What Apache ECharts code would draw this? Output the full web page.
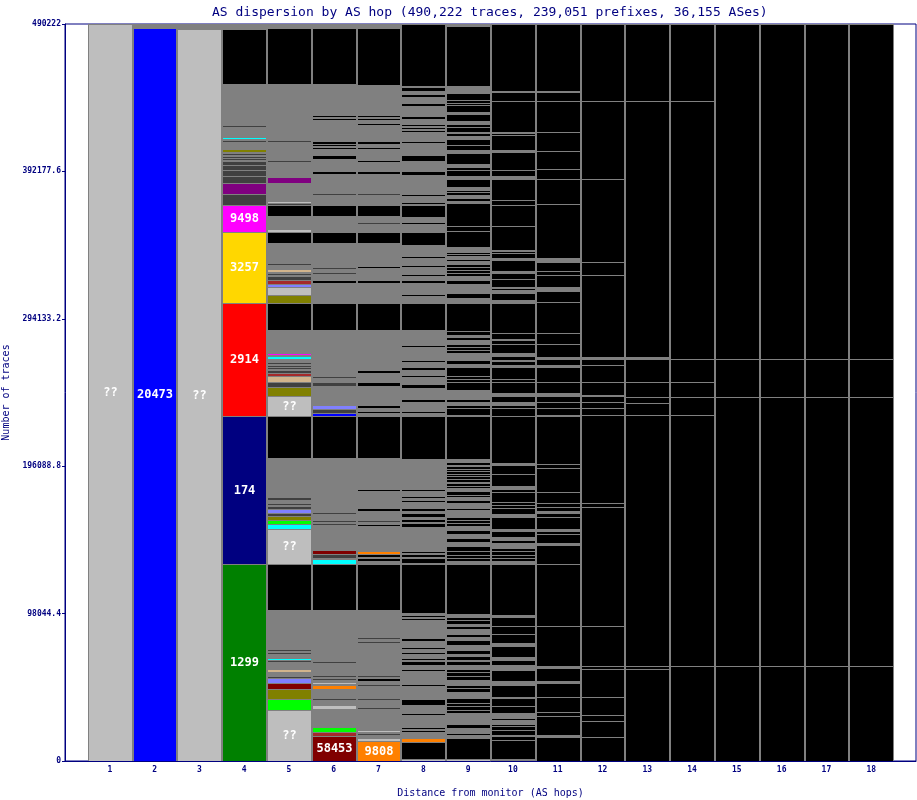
<!DOCTYPE html>
<html><head><meta charset="utf-8">
<script src="https://cdn.jsdelivr.net/npm/echarts@6/dist/echarts.min.js"></script>
<style>html,body{margin:0;padding:0;background:#fff}#c{width:917px;height:800px}</style>
</head><body><div id="c"></div>
<script>
// ---- data: each hop = list of [cumulative top (traces), AS class, label], bottom to top ----
const titleText = 'AS dispersion by AS hop (490,222 traces, 239,051 prefixes, 36,155 ASes)';
const hopNumbers = [1,2,3,4,5,6,7,8,9,10,11,12,13,14,15,16,17,18];
const yTickValues = [0, 98044.4, 196088.8, 294133.2, 392177.6, 490222];
const totalTraces = 490222;

const hop1 = [[490222,'S','??']];
const hop2 = [[487600,'B','20473'],[490222,'G']];
const hop3 = [[486900,'S','??'],[490222,'G']];
const hop4 = [[131000,'F','1299'],[229200,'N','174'],[304700,'R','2914'],[352200,'Y','3257'],[369900,'M','9498'],
 [377200,'D'],[384500,'P'],[388800,'D'],[392800,'D'],[396500,'D'],[399100,'D'],[399800,'G'],[400800,'D'],[401400,'G'],
 [402400,'D'],[403100,'G'],[404100,'D'],[405100,'G'],[407100,'O'],[408100,'G'],[409400,'D'],[410100,'G'],[411100,'D'],
 [411800,'G'],[412800,'D'],[413400,'G'],[415100,'C'],[415700,'G'],[416700,'D'],[417400,'G'],[418700,'D'],[419400,'G'],
 [420700,'D'],[421400,'G'],[423100,'D'],[450300,'G'],[486900,'K'],[490222,'G']];
const hop5 = [[33900,'S','??'],[41200,'L'],[47900,'O'],[51600,'W'],[54900,'V'],[56500,'D'],[57200,'G'],[58200,'D'],[58900,'G'],
 [61500,'T'],[62200,'G'],[63500,'D'],[64200,'G'],[65200,'D'],[65900,'G'],[66900,'D'],[67500,'G'],[68800,'C'],[69800,'G'],
 [70800,'D'],[71500,'G'],[72500,'D'],[73200,'G'],[74200,'D'],[100400,'G'],[131000,'K'],
 [154000,'S','??'],[157700,'C'],[160300,'L'],[163000,'O'],[165000,'D'],[167600,'V'],[169600,'D'],[170300,'G'],[171300,'D'],
 [172000,'G'],[173000,'D'],[173600,'G'],[175300,'D'],[201600,'G'],[229200,'K'],
 [243100,'S','??'],[248500,'O'],[252400,'D'],[255800,'T'],[258100,'H'],[260100,'D'],[260800,'G'],[261800,'D'],[262400,'G'],
 [263400,'D'],[264100,'G'],[265100,'D'],[265800,'G'],[266700,'D'],[267400,'G'],[269400,'C'],[270100,'G'],[271400,'M'],
 [286700,'G'],[304700,'K'],
 [310000,'O'],[315600,'S'],[317600,'V'],[320000,'H'],[322300,'D'],[323300,'G'],[324600,'D'],[325300,'G'],[327000,'T'],
 [327600,'G'],[328900,'D'],[329600,'G'],[331300,'D'],[331900,'G'],[332900,'D'],[344600,'G'],[352200,'K'],
 [353900,'S'],[362500,'G'],[369900,'K'],[371200,'D'],[372500,'S'],[384500,'G'],[388500,'P'],[393100,'G'],[394100,'S'],
 [398500,'G'],[399500,'D'],[400100,'G'],[401400,'D'],[402100,'G'],[403100,'D'],[408400,'G'],[409400,'D'],[410100,'G'],
 [411100,'D'],[411800,'G'],[413100,'D'],[450300,'G'],[487600,'K'],[490222,'G']];
const hop6 = [[16300,'W','58453'],[19300,'H'],[22300,'L'],[23600,'D'],[34300,'G'],[37300,'S'],[40600,'G'],[41600,'D'],
 [47900,'G'],[50600,'E'],[51200,'G'],[52600,'S'],[53900,'G'],[54900,'D'],[55900,'G'],[56900,'D'],[60500,'G'],[61500,'D'],
 [65200,'G'],[66200,'D'],[66900,'G'],[67500,'D'],[100400,'G'],[131000,'K'],
 [134400,'C'],[135000,'G'],[137700,'D'],[140400,'W'],[157000,'G'],[158000,'D'],[159000,'G'],[160000,'D'],[164300,'G'],
 [165300,'D'],[167600,'G'],[168600,'D'],[201600,'G'],[229200,'K'],
 [231800,'B'],[234100,'D'],[236800,'V'],[247800,'G'],[248800,'D'],[249500,'G'],[251800,'D'],[254800,'G'],[255800,'D'],
 [257400,'G'],[258400,'D'],[259400,'G'],[260400,'D'],[264700,'G'],[265700,'D'],[286700,'G'],[304700,'K'],
 [309000,'G'],[310000,'D'],[318000,'G'],[320000,'K'],[324000,'G'],[325000,'D'],[327300,'G'],[328300,'D'],[344600,'G'],[352200,'K'],
 [354900,'G'],[355900,'D'],[362500,'G'],[369900,'K'],
 [376500,'G'],[377500,'D'],[383200,'G'],[384100,'K'],[384800,'G'],[385800,'K'],[390500,'G'],[392500,'K'],[398100,'G'],
 [399100,'K'],[400400,'G'],[403400,'K'],[407100,'G'],[408100,'K'],[409100,'G'],[410100,'K'],[410400,'G'],[412400,'K'],
 [426400,'G'],[427400,'K'],[428400,'G'],[429400,'K'],[450300,'G'],[487600,'K'],[490222,'G']];
const hop7 = [[13000,'E','9808'],[15600,'S'],[17300,'G'],[18600,'D'],[19600,'G'],[20600,'S'],[34600,'G'],[35600,'D'],
 [40900,'G'],[41900,'D'],[47600,'G'],[48600,'D'],[49900,'G'],[50900,'D'],[53200,'G'],[54900,'K'],[56200,'G'],[57200,'D'],
 [66200,'G'],[67200,'D'],[72500,'G'],[73500,'K'],[78800,'G'],[79800,'D'],[81200,'G'],[82200,'D'],[100400,'G'],[131000,'K'],
 [133000,'G'],[135000,'K'],[135700,'G'],[137700,'K'],[139700,'E'],[156000,'G'],[157700,'K'],[159300,'G'],[160000,'D'],
 [166600,'G'],[168300,'K'],[179300,'G'],[180900,'K'],[184900,'G'],[185600,'D'],[201600,'G'],[229200,'K'],
 [229900,'G'],[230900,'K'],[231500,'G'],[232500,'K'],[234800,'G'],[236500,'K'],[247800,'G'],[248800,'D'],[249500,'G'],
 [251800,'K'],[255100,'G'],[255800,'D'],[257800,'G'],[260400,'K'],[286700,'G'],[304700,'K'],
 [308700,'G'],[309600,'D'],[311700,'G'],[312600,'D'],[318000,'G'],[320000,'K'],[324300,'G'],[325300,'K'],[327600,'G'],
 [329300,'K'],[344600,'G'],[352200,'K'],
 [354900,'G'],[355900,'D'],[357200,'G'],[358200,'D'],[362500,'G'],[369900,'K'],
 [376500,'G'],[377500,'D'],[383200,'G'],[384100,'K'],[384800,'G'],[385800,'K'],[390500,'G'],[392500,'K'],[398100,'G'],
 [399500,'K'],[400100,'G'],[401400,'K'],[402400,'G'],[403400,'K'],[407100,'G'],[408100,'K'],[408800,'G'],[409400,'K'],
 [410400,'G'],[412400,'K'],[423100,'G'],[424100,'K'],[426400,'G'],[427400,'K'],[428400,'G'],[429400,'K'],[449700,'G'],
 [487600,'K'],[490222,'G']];
const hop8 = [[1300,'S'],[12600,'K'],[15300,'E'],[19300,'G'],[20300,'K'],[21300,'G'],[22600,'K'],[23900,'G'],[24900,'K'],
 [30600,'G'],[31600,'K'],[37300,'G'],[41200,'K'],[47200,'G'],[48200,'K'],[49900,'G'],[50900,'K'],[53200,'G'],[54200,'K'],
 [59900,'G'],[60900,'K'],[63900,'G'],[66200,'K'],[67500,'G'],[68500,'K'],[71500,'G'],[72500,'K'],[74800,'G'],[75800,'K'],
 [77500,'G'],[78800,'K'],[79800,'G'],[81800,'K'],[83800,'G'],[84800,'K'],[89100,'G'],[90100,'K'],[94100,'G'],[95100,'K'],
 [95800,'G'],[96800,'K'],[98400,'G'],[131000,'K'],
 [132000,'G'],[135000,'K'],[135700,'G'],[137700,'K'],[138400,'G'],[139700,'K'],[146700,'G'],[147700,'K'],[155700,'G'],
 [158300,'K'],[159300,'G'],[161000,'K'],[162600,'G'],[165000,'K'],[166600,'G'],[168300,'K'],[172600,'G'],[173600,'K'],
 [174900,'G'],[176000,'K'],[179300,'G'],[180900,'K'],[185300,'G'],[186300,'K'],[192900,'G'],[193600,'K'],[200600,'G'],
 [229200,'K'],
 [229900,'G'],[230900,'K'],[231500,'G'],[232500,'K'],[234100,'G'],[235100,'K'],[239100,'G'],[240800,'K'],[247800,'G'],
 [250800,'K'],[255100,'G'],[256800,'K'],[259800,'G'],[261800,'K'],[265100,'G'],[266700,'K'],[275700,'G'],[276400,'K'],
 [286400,'G'],[304700,'K'],
 [309300,'G'],[310600,'K'],[318000,'G'],[320000,'K'],[322300,'G'],[324000,'K'],[325000,'G'],[325600,'K'],[328900,'G'],
 [329900,'K'],[334900,'G'],[335900,'K'],[342900,'G'],[352200,'K'],
 [354900,'G'],[355900,'K'],[357200,'G'],[358200,'K'],[359800,'G'],[360500,'K'],[361800,'G'],[369900,'K'],
 [370500,'G'],[371500,'K'],[375500,'G'],[377200,'K'],[383200,'G'],[384100,'K'],[385500,'G'],[386500,'K'],[390100,'G'],
 [392500,'K'],[398800,'G'],[403100,'K'],[410800,'G'],[412400,'K'],[418400,'G'],[419400,'K'],[420700,'G'],[421700,'K'],
 [422700,'G'],[423700,'K'],[426700,'G'],[428700,'K'],[430700,'G'],[431400,'K'],[435700,'G'],[437700,'K'],[438400,'G'],
 [439000,'K'],[441700,'G'],[443700,'K'],[445700,'G'],[448300,'K'],[449300,'G'],[490222,'K']];
const hop9 = [[1000,'S'],[15000,'K'],[17300,'G'],[18600,'K'],[22000,'G'],[24900,'K'],[31600,'G'],[33900,'K'],[36300,'K'],
 [38900,'K'],[41600,'K'],[46200,'G'],[48600,'K'],[50600,'K'],[53900,'G'],[56500,'K'],[59200,'K'],[61500,'K'],[63900,'G'],
 [66200,'K'],[67500,'G'],[69800,'K'],[71500,'G'],[73800,'K'],[77200,'G'],[80500,'K'],[82200,'G'],[84800,'K'],[87500,'G'],
 [89800,'K'],[91100,'G'],[94100,'K'],[96100,'K'],[98100,'G'],[131000,'K'],
 [132700,'G'],[134700,'K'],[137000,'K'],[139400,'K'],[142700,'K'],[146000,'G'],[148000,'K'],[151300,'G'],[153700,'K'],
 [156000,'G'],[158000,'K'],[160300,'K'],[162600,'K'],[167000,'G'],[168600,'K'],[171300,'G'],[173600,'K'],[175300,'G'],
 [176900,'K'],[179300,'K'],[181300,'G'],[182900,'K'],[184600,'K'],[185900,'G'],[187300,'K'],[189300,'K'],[190900,'K'],
 [192600,'K'],[193900,'K'],[195900,'K'],[197200,'G'],[199200,'K'],[200600,'G'],[229200,'K'],
 [230200,'K'],[234500,'K'],[236800,'K'],[239100,'G'],[241100,'K'],[246800,'G'],[252400,'K'],[254400,'K'],[256400,'K'],
 [262400,'K'],[264400,'G'],[266700,'K'],[271100,'G'],[273400,'K'],[275700,'K'],[277700,'K'],[280100,'G'],[281700,'K'],
 [283400,'G'],[285700,'K'],[304700,'K'],
 [308300,'G'],[311000,'K'],[317600,'G'],[320000,'K'],[322300,'G'],[324300,'K'],[326300,'K'],[328900,'K'],[330600,'K'],
 [332300,'G'],[333600,'K'],[335600,'G'],[337300,'K'],[338600,'K'],[340900,'G'],[342200,'K'],[352600,'K'],[355600,'K'],
 [371200,'K'],[372800,'G'],[374800,'K'],[376500,'G'],[378200,'K'],[379800,'K'],[381500,'G'],[386800,'K'],[388800,'G'],
 [393100,'K'],[394800,'K'],[397100,'G'],[404100,'K'],[406400,'G'],[409800,'K'],[413400,'K'],[415800,'G'],[417400,'K'],
 [418700,'K'],[421700,'K'],[423700,'K'],[425400,'G'],[430400,'K'],[431400,'G'],[436400,'K'],[438000,'K'],[439400,'K'],
 [444400,'K'],[449300,'G'],[488600,'K'],[490222,'G']];
const hop10 = [[1000,'G'],[14300,'K'],[16300,'K'],[17300,'G'],[20600,'K'],[23300,'K'],[24900,'K'],[27300,'G'],[28900,'K'],
 [31600,'G'],[36600,'K'],[41600,'K'],[42900,'G'],[50600,'K'],[52900,'G'],[60200,'K'],[61500,'K'],[63900,'G'],[67200,'K'],
 [68900,'G'],[76500,'K'],[78800,'G'],[84800,'K'],[89500,'K'],[95500,'K'],[97100,'G'],[131000,'K'],
 [132700,'G'],[134700,'K'],[137000,'K'],[139400,'K'],[141400,'K'],[144700,'G'],[147000,'K'],[149300,'G'],[153300,'K'],
 [154000,'G'],[162600,'K'],[164600,'G'],[168600,'K'],[170600,'K'],[172600,'K'],[178600,'K'],[180600,'K'],[182600,'G'],
 [191200,'K'],[196900,'K'],[197900,'G'],[229200,'K'],
 [234500,'K'],[236800,'K'],[239100,'G'],[242500,'K'],[245100,'G'],[252400,'K'],[254100,'K'],[261800,'K'],[263400,'G'],
 [265800,'K'],[266700,'G'],[269400,'K'],[271400,'G'],[277700,'K'],[279700,'K'],[280700,'G'],[285000,'K'],[304700,'K'],
 [306700,'G'],[311000,'K'],[313300,'G'],[314300,'K'],[315600,'G'],[320300,'K'],[324300,'K'],[325600,'G'],[333300,'K'],
 [334600,'G'],[337600,'K'],[338900,'K'],[339900,'G'],[355600,'K'],[369900,'K'],[373200,'K'],[386800,'K'],[389100,'G'],
 [393100,'K'],[405100,'K'],[406100,'G'],[416400,'K'],[417400,'K'],[418700,'G'],[438700,'K'],[444700,'K'],[445700,'G'],
 [490222,'K']];
const hop11 = [[16000,'K'],[17300,'G'],[29600,'K'],[32900,'K'],[42600,'K'],[51900,'K'],[52900,'G'],[61900,'K'],[63500,'G'],
 [89500,'K'],[131000,'K'],[144000,'K'],[145300,'G'],[151300,'K'],[153000,'K'],[154000,'G'],[162600,'K'],[165000,'K'],
 [166300,'G'],[169000,'K'],[171300,'K'],[178600,'K'],[195200,'K'],[197600,'K'],[229200,'K'],[230200,'K'],[234500,'K'],
 [238800,'K'],[242500,'K'],[245100,'G'],[252400,'K'],[261800,'K'],[263400,'G'],[267400,'K'],[268400,'G'],[277700,'K'],
 [285000,'K'],[305000,'K'],[312600,'K'],[315000,'G'],[323000,'K'],[325600,'K'],[331600,'K'],[334300,'G'],[370200,'K'],
 [386800,'K'],[393500,'K'],[405800,'K'],[418700,'K'],[438700,'K'],[444700,'K'],[445700,'G'],[490222,'K']];
const hop12 = [[16000,'K'],[26600,'K'],[30600,'K'],[42600,'K'],[61500,'K'],[63200,'K'],[89500,'K'],[169000,'K'],[171300,'K'],
 [230200,'K'],[234500,'K'],[238500,'K'],[242500,'K'],[243500,'G'],[252400,'K'],[263400,'K'],[267100,'K'],[268400,'G'],
 [323300,'K'],[331600,'K'],[386800,'K'],[439000,'K'],[490222,'K']];
const hop13 = [[61500,'K'],[63200,'K'],[230200,'K'],[238100,'K'],[242100,'K'],[252400,'K'],[267100,'K'],[268400,'G'],
 [439000,'K'],[490222,'K']];
const hop14 = [[63200,'K'],[230200,'K'],[242100,'K'],[252400,'K'],[267400,'K'],[439000,'K'],[490222,'K']];
const hop15 = [[63200,'K'],[242100,'K'],[267400,'K'],[490222,'K']];
const hop16 = [[63200,'K'],[242100,'K'],[267400,'K'],[490222,'K']];
const hop17 = [[63200,'K'],[242100,'K'],[267400,'K'],[490222,'K']];
const hop18 = [[63200,'K'],[242100,'K'],[267400,'K'],[490222,'K']];
const hops = [hop1,hop2,hop3,hop4,hop5,hop6,hop7,hop8,hop9,hop10,hop11,hop12,hop13,hop14,hop15,hop16,hop17,hop18];

// ---- styles ----
const palette = {K:'#000000',G:'#808080',D:'#404040',S:'#bebebe',B:'#0000ff',N:'#000080',F:'#008000',R:'#ff0000',
 Y:'#ffd700',M:'#ff00ff',P:'#800080',O:'#808000',C:'#00ffff',L:'#00ff00',V:'#8080ff',W:'#800000',H:'#a52a2a',
 T:'#d2b48c',E:'#ff8000'};
const NAVY = '#000080';
const MONO = '"DejaVu Sans Mono", monospace';

const segments = [];
hops.forEach((segs, i) => {
  let lo = 0;
  segs.forEach(s => { segments.push([hopNumbers[i], lo, s[0], s[1], s[2] || '']); lo = s[0]; });
});
const columns = hopNumbers.map(h => [h, 0, totalTraces]);

function renderColumn(params, api) {
  const h = api.value(0);
  const a = api.coord([h - 0.5, api.value(1)]);
  const b = api.coord([h + 0.5, api.value(2)]);
  const x0 = Math.ceil(a[0]), x1 = Math.ceil(b[0]);
  const yt = Math.round(b[1]), yb = Math.round(a[1]);
  return {type:'rect', shape:{x:x0, y:yt, width:x1 - x0, height:yb - yt}, style:{fill:'#808080'}};
}
function renderSeg(params, api) {
  const s = segments[params.dataIndex];
  const a = api.coord([s[0] - 0.5, s[1]]);
  const b = api.coord([s[0] + 0.5, s[2]]);
  const x0 = Math.ceil(a[0]) + 1, x1 = Math.ceil(b[0]) - 1;
  const yb = Math.round(a[1]), yt = Math.round(b[1]) + 1;
  const children = [];
  if (s[3] !== 'G' && yb > yt) {
    children.push({type:'rect', shape:{x:x0, y:yt, width:x1 - x0, height:yb - yt}, style:{fill:palette[s[3]]}});
  }
  if (s[4]) {
    children.push({type:'text', x:(x0 + x1) / 2, y:(yt + yb) / 2,
      style:{text:s[4], fill:'#ffffff', font:'bold 12px ' + MONO, align:'center', verticalAlign:'middle'}});
  }
  return {type:'group', children};
}

const chart = echarts.init(document.getElementById('c'), null, {renderer:'canvas'});
chart.setOption({
  animation:false,
  backgroundColor:'#ffffff',
  title:{text:titleText, left:207, top:1,
    textStyle:{color:NAVY, fontFamily:MONO, fontSize:13, fontWeight:'normal'}},
  grid:{left:65, right:1, top:24, bottom:39, outerBoundsMode:'none', containLabel:false,
    show:true, borderColor:NAVY, borderWidth:1, backgroundColor:'transparent'},
  xAxis:{type:'value', min:0, max:19, interval:1,
    axisLine:{show:true, lineStyle:{color:NAVY}}, axisTick:{show:false}, splitLine:{show:false},
    axisLabel:{color:NAVY, fontFamily:MONO, fontSize:8, fontWeight:'bold', margin:5,
      formatter:v => hopNumbers.indexOf(v) >= 0 ? String(v) : ''},
    name:'Distance from monitor (AS hops)', nameLocation:'middle', nameGap:27,
    nameTextStyle:{color:NAVY, fontFamily:MONO, fontSize:10}},
  yAxis:{type:'value', min:0, max:totalTraces, interval:yTickValues[1],
    axisLine:{show:true, lineStyle:{color:NAVY}}, axisTick:{show:true, length:3, lineStyle:{color:NAVY}},
    splitLine:{show:false},
    axisLabel:{color:NAVY, fontFamily:MONO, fontSize:8, fontWeight:'bold', margin:4,
      formatter:v => { const t = yTickValues.find(x => Math.abs(x - v) < 0.01); return t === undefined ? '' : String(t); }},
    name:'Number of traces', nameLocation:'middle', nameGap:52, nameRotate:90,
    nameTextStyle:{color:NAVY, fontFamily:MONO, fontSize:10}},
  series:[
    {type:'custom', name:'columns', silent:true, clip:false, renderItem:renderColumn, data:columns, encode:{x:0, y:[1,2]}, z:2},
    {type:'custom', name:'AS segments', silent:true, clip:false, renderItem:renderSeg,
      data:segments.map(s => [s[0], s[1], s[2]]), encode:{x:0, y:[1,2]}, z:3}
  ]
});
</script></body></html>
